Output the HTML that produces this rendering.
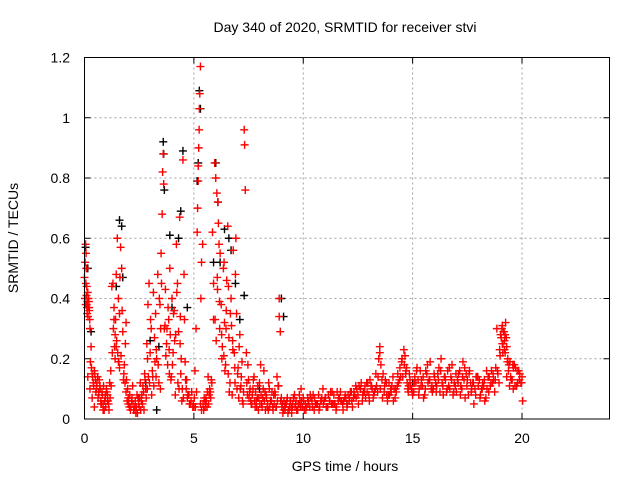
<!DOCTYPE html>
<html><head><meta charset="utf-8"><style>
body{margin:0;background:#fff;}
svg{display:block;font-family:"Liberation Sans",sans-serif;}
</style></head><body>
<svg id="chart" width="640" height="480" viewBox="0 0 640 480">
<rect width="640" height="480" fill="#fff"/>
<text x="345" y="32" text-anchor="middle" font-size="14">Day 340 of 2020, SRMTID for receiver stvi</text>
<text transform="translate(18,238) rotate(-90)" text-anchor="middle" font-size="14">SRMTID / TECUs</text>
<text x="345" y="471" text-anchor="middle" font-size="14">GPS time / hours</text>
<g id="grid"></g>
<g id="axes"></g>
<g id="black-series"></g>
<g id="red-series"></g>
<rect x="84.5" y="57.5" width="525" height="361.5" fill="none" stroke="#000" stroke-width="1"/>
</svg>
<script>
const xTicks=[0,5,10,15,20];
const yTicks=[0,0.2,0.4,0.6,0.8,1,1.2];
const yTickLabels=["0","0.2","0.4","0.6","0.8","1","1.2"];
const redX=[0,0.02,0.05,0.07,0.08,0.1,0.1,0.12,0.15,0.17,0.2,0.22,0.25,0.3,0.35,0.4,0.45,0.5,0.55,0.6,0.65,0.7,0.75,0.8,0.85,0.9,0.95,1.0,1.05,1.1,1.15,1.2,1.3,1.35,1.4,1.4,1.45,1.5,1.52,1.55,1.6,1.6,1.65,1.7,1.75,1.8,1.85,1.9,1.9,2.0,2.0,2.1,2.15,2.2,2.3,2.35,2.4,2.5,2.55,2.6,2.7,2.75,2.8,2.85,2.9,2.95,3.0,3.05,3.1,3.15,3.2,3.25,3.3,3.35,3.4,3.45,3.5,3.55,3.57,3.6,3.62,3.65,3.7,3.75,3.8,3.85,3.9,3.95,4.0,4.05,4.1,4.15,4.2,4.25,4.3,4.35,4.4,4.45,4.5,4.55,4.6,4.65,4.7,4.8,4.9,5.0,5.05,5.1,5.15,5.17,5.2,5.2,5.22,5.24,5.25,5.27,5.3,5.32,5.35,5.4,5.3,5.45,5.5,5.6,5.7,5.8,5.85,5.9,5.95,6.0,6.05,6.1,6.12,6.15,6.2,6.25,6.3,6.35,6.4,6.45,6.5,6.55,6.6,6.65,6.7,6.75,6.8,6.85,6.9,6.95,7.0,7.05,7.1,7.15,7.2,7.25,7.3,7.32,7.35,7.4,7.45,7.5,7.6,7.7,7.8,7.9,8.0,8.1,8.2,8.3,8.4,8.5,8.6,8.7,8.8,8.9,8.9,8.95,9.0,9.1,9.2,9.3,9.4,9.5,9.6,9.7,9.8,9.9,10.0,
0.05,0.15,0.25,0.35,0.45,0.55,0.65,0.75,0.85,0.95,1.05,1.25,1.35,1.45,1.55,1.62,1.72,1.78,1.95,2.05,2.25,2.45,2.65,2.72,2.88,3.02,3.12,3.22,3.28,3.42,3.48,3.52,3.68,3.72,3.82,3.88,3.92,4.02,4.12,4.22,4.32,4.38,4.42,4.52,4.62,4.72,4.85,4.95,5.35,5.55,5.65,5.75,5.9,6.02,6.08,6.18,6.28,6.38,6.42,6.48,6.58,6.62,6.72,6.78,6.88,6.92,7.02,7.12,7.22,7.55,7.65,7.75,7.85,7.95,8.05,8.15,8.25,8.35,8.45,8.55,8.65,8.75,8.85,9.05,9.15,9.25,9.35,9.45,9.55,9.65,9.75,9.85,9.95,
10.1,10.2,10.3,10.4,10.5,10.6,10.7,10.8,10.9,11.0,11.1,11.2,11.3,11.4,11.5,11.6,11.7,11.8,11.9,12.0,12.1,12.2,12.3,12.4,12.5,12.6,12.7,12.8,12.9,13.0,13.1,13.2,13.3,13.4,13.45,13.5,13.5,13.55,13.6,13.7,13.8,13.9,14.0,14.1,14.2,14.3,14.4,14.5,14.6,14.65,14.7,14.75,14.8,14.85,14.9,15.0,15.1,15.2,15.3,15.4,15.5,15.6,15.7,15.8,15.9,16.0,16.1,16.2,16.3,16.4,16.5,16.6,16.7,16.8,16.9,17.0,17.1,17.2,17.3,17.4,17.5,17.6,17.7,17.8,17.9,18.0,18.1,18.2,18.3,18.4,18.5,18.6,18.7,18.8,18.9,19.0,19.05,19.1,19.15,19.2,19.25,19.3,19.35,19.4,19.5,19.6,19.7,19.8,19.9,20.0,
10.05,10.25,10.45,10.65,10.85,11.05,11.25,11.45,11.65,11.85,12.05,12.25,12.45,12.65,12.85,13.05,13.25,13.65,13.85,14.05,14.25,14.45,14.72,14.95,15.15,15.35,15.55,15.75,15.95,16.15,16.35,16.55,16.75,16.95,17.15,17.35,17.55,17.75,17.95,18.15,18.35,18.55,18.75,18.95,19.12,19.22,19.45,19.55,19.65,19.75,19.85,19.95];
const redY=[0.47,0.40,0.58,0.55,0.50,0.44,0.38,0.35,0.42,0.37,0.39,0.36,0.30,0.24,0.15,0.12,0.16,0.13,0.10,0.14,0.08,0.11,0.06,0.09,0.05,0.03,0.07,0.10,0.08,0.05,0.12,0.16,0.45,0.37,0.28,0.20,0.48,0.60,0.22,0.40,0.35,0.17,0.57,0.50,0.29,0.15,0.12,0.32,0.09,0.07,0.05,0.03,0.06,0.11,0.04,0.02,0.08,0.04,0.12,0.06,0.09,0.15,0.10,0.25,0.38,0.45,0.22,0.30,0.16,0.42,0.27,0.35,0.20,0.48,0.12,0.38,0.55,0.68,0.82,0.88,0.78,0.30,0.43,0.25,0.18,0.33,0.50,0.13,0.40,0.22,0.36,0.08,0.58,0.45,0.29,0.67,0.15,0.06,0.86,0.48,0.19,0.10,0.07,0.05,0.09,0.04,0.16,0.30,0.62,0.70,0.79,0.84,0.90,0.96,1.03,1.08,1.17,0.40,0.52,0.58,0.05,0.03,0.06,0.04,0.08,0.13,0.62,0.45,0.85,0.80,0.75,0.72,0.65,0.58,0.55,0.38,0.24,0.50,0.32,0.18,0.46,0.64,0.27,0.12,0.40,0.08,0.56,0.22,0.48,0.35,0.15,0.07,0.28,0.11,0.19,0.05,0.96,0.91,0.76,0.22,0.08,0.13,0.06,0.10,0.04,0.07,0.12,0.05,0.16,0.08,0.03,0.06,0.04,0.09,0.14,0.40,0.34,0.29,0.07,0.03,0.05,0.02,0.06,0.04,0.08,0.03,0.05,0.10,0.07,
0.38,0.14,0.10,0.07,0.04,0.11,0.09,0.05,0.03,0.08,0.06,0.44,0.33,0.24,0.19,0.47,0.36,0.13,0.06,0.04,0.03,0.07,0.05,0.03,0.20,0.33,0.14,0.19,0.23,0.40,0.30,0.45,0.31,0.21,0.37,0.15,0.28,0.18,0.26,0.42,0.10,0.34,0.20,0.07,0.13,0.08,0.05,0.04,0.03,0.07,0.14,0.09,0.33,0.26,0.43,0.30,0.20,0.52,0.16,0.36,0.44,0.09,0.31,0.23,0.12,0.60,0.17,0.10,0.06,0.09,0.05,0.14,0.06,0.03,0.18,0.07,0.09,0.04,0.10,0.06,0.08,0.04,0.11,0.05,0.04,0.06,0.03,0.04,0.07,0.05,0.03,0.06,0.04,
0.05,0.07,0.04,0.06,0.03,0.05,0.08,0.06,0.10,0.07,0.04,0.06,0.05,0.08,0.03,0.06,0.09,0.05,0.07,0.04,0.06,0.09,0.07,0.11,0.08,0.10,0.06,0.09,0.12,0.08,0.11,0.07,0.10,0.09,0.20,0.24,0.22,0.18,0.13,0.09,0.12,0.08,0.10,0.14,0.07,0.11,0.13,0.19,0.23,0.21,0.16,0.12,0.09,0.15,0.11,0.08,0.14,0.17,0.10,0.13,0.07,0.16,0.12,0.19,0.09,0.14,0.11,0.17,0.20,0.08,0.13,0.16,0.10,0.18,0.12,0.09,0.15,0.11,0.19,0.07,0.13,0.16,0.10,0.05,0.14,0.11,0.08,0.12,0.06,0.10,0.14,0.16,0.13,0.17,0.15,0.21,0.27,0.31,0.29,0.26,0.32,0.24,0.20,0.18,0.13,0.10,0.17,0.12,0.15,0.14,
0.03,0.06,0.08,0.05,0.07,0.04,0.09,0.05,0.07,0.06,0.08,0.04,0.10,0.12,0.07,0.13,0.09,0.15,0.06,0.11,0.09,0.14,0.17,0.10,0.12,0.16,0.08,0.13,0.10,0.15,0.12,0.09,0.14,0.11,0.16,0.13,0.08,0.12,0.14,0.10,0.07,0.11,0.09,0.12,0.22,0.28,0.19,0.13,0.18,0.11,0.16,0.12];
const redX2=[0.03,0.06,0.09,0.11,0.13,0.16,0.18,0.21,0.24,0.27,0.32,0.37,0.42,0.47,0.52,0.57,0.62,0.67,0.72,0.77,0.82,0.87,0.92,0.97,1.02,1.07,1.12,1.17,1.22,1.27,1.32,1.37,1.42,1.47,1.57,1.67,1.82,1.87,1.92,1.97,2.02,2.07,2.12,2.17,2.22,2.27,2.32,2.37,2.42,2.47,2.52,2.57,2.62,2.67,2.77,2.82,2.87,2.92,2.97,3.07,3.17,3.27,3.37,3.47,3.77,3.87,3.97,4.07,4.17,4.27,4.37,4.47,4.57,4.67,4.77,4.87,4.97,5.02,5.07,5.12,5.42,5.47,5.52,5.57,5.62,5.67,5.72,5.77,5.82,5.97,6.07,6.17,6.27,6.37,6.47,6.57,6.67,6.77,6.87,6.97,7.07,7.17,7.27,7.42,7.47,7.52,7.57,7.62,7.67,7.72,7.77,7.82,7.87,7.92,7.97,8.02,8.07,8.12,8.17,8.22,8.27,8.32,8.37,8.42,8.47,8.52,8.57,8.62,8.67,8.72,8.77,8.82,8.87,8.97,9.02,9.07,9.12,9.17,9.22,9.27,9.32,9.37,9.42,9.47,9.52,9.57,9.62,9.67,9.72,9.77,9.82,9.87,9.92,9.97,
10.02,10.12,10.22,10.32,10.42,10.52,10.62,10.72,10.82,10.92,11.02,11.12,11.22,11.32,11.42,11.52,11.62,11.72,11.82,11.92,12.02,12.12,12.22,12.32,12.42,12.52,12.62,12.72,12.82,12.92,13.02,13.12,13.22,13.32,13.42,13.52,13.62,13.72,13.82,13.92,14.02,14.12,14.22,14.32,14.42,14.52,14.62,14.68,14.78,14.88,14.98,15.08,15.18,15.28,15.38,15.48,15.58,15.68,15.78,15.88,15.98,16.08,16.18,16.28,16.38,16.48,16.58,16.68,16.78,16.88,16.98,17.08,17.18,17.28,17.38,17.48,17.58,17.68,17.78,17.88,17.98,18.08,18.18,18.28,18.38,18.48,18.58,18.68,18.78,18.88,18.98,19.02,19.08,19.13,19.18,19.23,19.28,19.33,19.38,19.43,19.48,19.58,19.68,19.78,19.88,19.98,20.03,
10.15,10.35,10.55,10.75,10.95,11.15,11.35,11.55,11.75,11.95,12.15,12.35,12.55,12.75,12.95,13.15,13.35,13.75,13.95,14.15,14.35,14.55,14.82,15.05,15.25,15.45,15.65,15.85,16.05,16.25,16.45,16.65,16.85,17.05,17.25,17.45,17.65,17.85,18.05,18.25,18.45,18.65,18.85,19.1,19.2,19.3,19.6,19.8];
const redY2=[0.52,0.45,0.41,0.37,0.39,0.34,0.40,0.37,0.33,0.19,0.17,0.14,0.11,0.15,0.09,0.12,0.07,0.13,0.10,0.05,0.08,0.11,0.06,0.04,0.09,0.06,0.03,0.07,0.11,0.22,0.30,0.24,0.33,0.26,0.19,0.21,0.18,0.25,0.13,0.10,0.06,0.08,0.04,0.07,0.05,0.03,0.06,0.04,0.02,0.05,0.07,0.03,0.08,0.11,0.13,0.07,0.10,0.14,0.12,0.08,0.11,0.14,0.18,0.10,0.30,0.23,0.14,0.35,0.28,0.12,0.25,0.10,0.33,0.13,0.08,0.06,0.05,0.07,0.04,0.09,0.05,0.07,0.04,0.06,0.09,0.05,0.10,0.07,0.12,0.33,0.47,0.39,0.28,0.21,0.30,0.15,0.35,0.26,0.17,0.10,0.24,0.14,0.09,0.12,0.18,0.07,0.10,0.05,0.08,0.13,0.06,0.09,0.04,0.11,0.07,0.05,0.08,0.04,0.10,0.06,0.03,0.07,0.05,0.12,0.04,0.06,0.09,0.03,0.05,0.08,0.04,0.06,0.11,0.06,0.04,0.02,0.06,0.03,0.05,0.07,0.03,0.04,0.06,0.02,0.05,0.07,0.04,0.06,0.03,0.05,0.08,0.04,0.06,
0.04,0.06,0.03,0.05,0.08,0.04,0.07,0.05,0.03,0.06,0.05,0.07,0.04,0.06,0.09,0.05,0.04,0.07,0.06,0.03,0.08,0.05,0.07,0.06,0.09,0.07,0.05,0.10,0.08,0.11,0.09,0.06,0.11,0.08,0.15,0.14,0.10,0.07,0.11,0.08,0.12,0.09,0.06,0.10,0.15,0.17,0.20,0.18,0.15,0.10,0.13,0.09,0.12,0.16,0.08,0.11,0.14,0.10,0.18,0.13,0.11,0.15,0.09,0.13,0.16,0.11,0.14,0.10,0.17,0.13,0.09,0.15,0.12,0.08,0.14,0.17,0.11,0.15,0.09,0.12,0.08,0.14,0.07,0.10,0.13,0.16,0.09,0.12,0.15,0.13,0.16,0.23,0.28,0.30,0.25,0.29,0.22,0.27,0.19,0.16,0.11,0.14,0.18,0.11,0.16,0.13,0.12,
0.06,0.04,0.07,0.05,0.04,0.06,0.08,0.05,0.09,0.06,0.07,0.09,0.08,0.11,0.09,0.12,0.10,0.11,0.13,0.08,0.10,0.12,0.14,0.11,0.09,0.13,0.11,0.15,0.10,0.12,0.09,0.14,0.11,0.08,0.13,0.10,0.15,0.12,0.10,0.13,0.11,0.14,0.12,0.30,0.25,0.23,0.14,0.17];
const blackX=[0.05,0.15,1.6,1.7,1.75,2.8,3.3,3.6,3.62,3.65,3.9,4.3,4.4,4.5,5.25,5.3,5.2,5.15,6.0,6.1,6.4,6.6,6.7,6.2,7.3,9.0,9.1,3.0,3.4,4.0,2.5,6.9,8.0,12.0,15.0,0.3,1.45,4.7,5.9,7.1];
const blackY=[0.57,0.50,0.66,0.64,0.47,0.12,0.03,0.92,0.88,0.76,0.61,0.60,0.69,0.89,1.09,1.03,0.85,0.79,0.85,0.72,0.63,0.60,0.56,0.52,0.41,0.40,0.34,0.26,0.24,0.37,0.07,0.45,0.10,0.05,0.12,0.29,0.44,0.37,0.52,0.33];

const L=84.5,R=609.5,T=57.5,B=419;
function xs(v){return L+(v/24)*(R-L);}
function ys(v){return B-(v/1.2)*(B-T);}
const NS="http://www.w3.org/2000/svg";
function mk(tag,attrs,parent){const e=document.createElementNS(NS,tag);for(const k in attrs)e.setAttribute(k,attrs[k]);parent.appendChild(e);return e;}
const grid=document.getElementById('grid'),axes=document.getElementById('axes');
xTicks.forEach(t=>{
  const x=xs(t);
  if(t>0){const g=mk('line',{x1:x,x2:x,y1:T,y2:B,stroke:'#a0a0a0','stroke-dasharray':'2,3'},grid);
  
  }
  const a=mk('line',{x1:x,x2:x,y1:B,y2:B-6,stroke:'#000'},axes);
  
  
  const b=mk('line',{x1:x,x2:x,y1:T,y2:T+6,stroke:'#000'},axes);
  
  
  const l=mk('text',{x:x,y:443,'text-anchor':'middle','font-size':'14'},axes);l.textContent=String(t);
  
  
});
yTicks.forEach((t,i)=>{
  const y=ys(t);
  if(t>0&&t<1.2){const g=mk('line',{x1:L,x2:R,y1:y,y2:y,stroke:'#a0a0a0','stroke-dasharray':'2,3'},grid);
  
  }
  const a=mk('line',{x1:L,x2:L+6,y1:y,y2:y,stroke:'#000'},axes);
  
  
  const b=mk('line',{x1:R,x2:R-6,y1:y,y2:y,stroke:'#000'},axes);
  
  
  const l=mk('text',{x:70,y:y+5,'text-anchor':'end','font-size':'14'},axes);l.textContent=yTickLabels[i];
  
  
});
function plus(px,py,col,parent){
  const d=`M${px-4},${py}H${px+4}M${px},${py-4}V${py+4}`;
  return mk('path',{d:d,stroke:col,'stroke-width':'1.4',fill:'none'},parent);
}
const bg=document.getElementById('black-series');
blackX.forEach((v,i)=>{const p=plus(xs(v),ys(blackY[i]),'#000',bg);
  
  });
const rg=document.getElementById('red-series');
redX.forEach((v,i)=>{const p=plus(xs(v),ys(redY[i]),'#ff0000',rg);
  
  });
redX2.forEach((v,i)=>{const p=plus(xs(v),ys(redY2[i]),'#ff0000',rg);
  
  });
</script>
</body></html>
